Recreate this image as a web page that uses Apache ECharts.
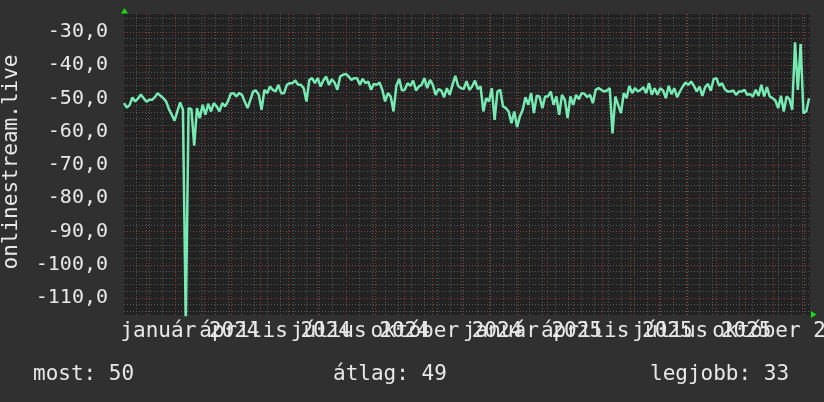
<!DOCTYPE html>
<html><head><meta charset="utf-8">
<script src="https://cdn.jsdelivr.net/npm/echarts@6/dist/echarts.min.js"></script>
<style>html,body{margin:0;padding:0;background:#303030;}#c{width:824px;height:402px;}</style>
</head><body><div id="c"></div>
<script>
// ---- data ----
const seriesName = 'onlinestream.live';
const startDate = [2023, 10, 7];   // first sample (local date), day 0
const spanDays = 733;              // axis span in days
const stepDays = 3;                // one sample every 3 days
const values = [
  -51.4, -52.7, -52.0, -49.7, -50.9, -50.0, -48.8, -49.9, -51.0, -50.4,
  -50.4, -49.6, -48.4, -49.2, -49.9, -50.9, -53.2, -54.9, -56.7, -53.9,
  -51.2, -53.4, -118, -52.9, -53.2, -64.2, -52.9, -55.9, -51.9, -54.9,
  -51.6, -53.9, -51.4, -52.4, -53.9, -51.4, -52.4, -50.9, -48.6, -48.4,
  -49.4, -48.4, -48.9, -50.9, -52.9, -50.4, -47.9, -47.6, -48.9, -53.4,
  -47.4, -48.4, -46.4, -47.4, -47.9, -45.9, -48.4, -48.4, -45.9, -45.4,
  -45.4, -44.6, -45.9, -45.9, -46.9, -50.9, -44.4, -43.9, -45.4, -43.9,
  -46.4, -44.6, -43.4, -45.9, -44.2, -45.2, -47.4, -43.4, -42.9, -42.6,
  -43.4, -44.4, -43.9, -43.9, -45.9,
  -44.1, -45.4, -44.9, -47.4, -45.6, -45.9, -45.2, -47.4, -50.9, -48.4,
  -49.4, -53.9, -46.2, -44.1, -47.6, -47.4, -45.4, -46.2, -44.6, -47.6,
  -46.4, -45.9, -43.9, -46.9, -44.4, -45.9, -48.9, -47.2, -47.6, -49.6,
  -46.9, -48.9, -45.9, -43.2, -46.2, -46.9, -47.2, -44.8, -47.4, -46.4,
  -44.6, -47.2, -46.4, -53.9, -49.9, -50.9, -46.9, -56.4, -47.9, -47.4,
  -52.4, -52.9, -53.9, -57.4, -53.9, -58.6, -55.4, -53.4, -49.6, -51.9,
  -48.4, -54.4, -49.2, -49.4, -52.9, -49.4, -49.4, -47.9, -51.9, -49.4,
  -54.9, -48.9, -50.4, -55.9, -49.4, -51.9, -48.9, -50.2, -48.4, -48.6,
  -49.6, -48.9, -51.4, -47.4, -46.9, -47.4, -47.9, -47.6, -46.9,
  -60.5, -49.4, -51.9, -54.4, -48.4, -49.9, -46.2, -48.4, -46.9, -47.9,
  -47.4, -46.6, -48.4, -45.4, -48.9, -46.9, -48.9, -46.9, -47.6, -49.9,
  -46.2, -48.7, -46.9, -49.6, -47.9, -46.4, -45.2, -45.9, -44.9, -46.2,
  -47.9, -46.4, -49.2, -46.6, -45.6, -47.7, -44.2, -43.9, -46.2, -45.4,
  -47.2, -47.9, -47.9, -47.6, -48.9, -47.9, -47.9, -47.4, -48.9, -48.7,
  -49.4, -47.4, -49.2, -45.9, -49.4, -46.6, -49.4, -49.9, -50.6, -52.9,
  -49.2, -53.9, -49.4, -50.2, -53.4, -33.1, -47.4, -33.6, -54.4, -53.9, -49.9
];
const yTicks = [-110, -100, -90, -80, -70, -60, -50, -40, -30];
const yMin = -115.1, yMax = -24.6;
const labelMonthsA = [[2024, 0], [2024, 6], [2025, 0], [2025, 6]];
const labelMonthsB = [[2024, 3], [2024, 9], [2025, 3], [2025, 9]];
const monthNames = ['január', 'február', 'március', 'április', 'május', 'június', 'július', 'augusztus', 'szeptember', 'október', 'november', 'december'];
const statTexts = ['most: 50', 'átlag: 49', 'legjobb: 33'];

// ---- build ----
const DAY = 86400000;
const t0 = new Date(startDate[0], startDate[1], startDate[2]).getTime();
const dayOf = (y, m, d, h) => (new Date(y, m, d, h || 0).getTime() - t0) / DAY;
const seriesData = values.map((v, i) => [i * stepDays, v]);
const labA = labelMonthsA.map(([y, m]) => dayOf(y, m, 16, 12));
const labB = labelMonthsB.map(([y, m]) => dayOf(y, m, 16, 12));

const RED = '#8a3a3a', GRAY = '#565656';
const dot = (c) => ({ color: c, type: [1, 2], width: 1 });
const minorLines = [], majorLines = [];
for (let v = -114; v <= -26; v += 2) {
  if (v % 10 !== 0) minorLines.push({ yAxis: v, lineStyle: dot(GRAY) });
}
for (let d = dayOf(2023, 10, 20); d < spanDays; d += 14) {
  minorLines.push({ xAxis: d, lineStyle: dot(GRAY) });
}
yTicks.forEach(v => majorLines.push({ yAxis: v, lineStyle: dot(RED) }));
for (let k = 0; k < 24; k++) {
  const d = dayOf(2023, 11 + k, 1);
  if (d < spanDays) majorLines.push({ xAxis: d, lineStyle: dot(RED) });
}

const FONT = 'DejaVu Sans Mono';
const TXT = '#e8e8e8';
const fmtX = (v) => { const dt = new Date(t0 + v * DAY); return monthNames[dt.getMonth()] + ' ' + dt.getFullYear(); };
const xAxisBase = (labels) => ({
  type: 'value', min: 0, max: spanDays, interval: spanDays, position: 'bottom',
  axisLine: { show: false }, axisTick: { show: false }, splitLine: { show: false },
  axisLabel: {
    customValues: labels, hideOverlap: false,
    formatter: fmtX, color: TXT, fontFamily: FONT, fontSize: 21, margin: 6
  }
});
const chart = echarts.init(document.getElementById('c'), null, { renderer: 'canvas' });
chart.setOption({
  animation: false,
  backgroundColor: '#303030',
  grid: { left: 124, right: 14, top: 14, bottom: 87, show: true, backgroundColor: '#222222', borderWidth: 0,
          containLabel: false, outerBoundsMode: 'none' },
  xAxis: [xAxisBase(labA), xAxisBase(labB)],
  yAxis: {
    type: 'value', min: yMin, max: yMax,
    axisLine: { show: false }, axisTick: { show: false }, splitLine: { show: false },
    axisLabel: {
      customValues: yTicks,
      formatter: (v) => v.toFixed(1).replace('.', ','),
      color: TXT, fontFamily: FONT, fontSize: 20, margin: 16
    }
  },
  series: [
    { type: 'line', data: [], silent: true, z: 1, xAxisIndex: 0,
      markLine: { silent: true, symbol: ['none', 'none'], label: { show: false }, animation: false, data: minorLines } },
    { type: 'line', data: [], silent: true, z: 2, xAxisIndex: 0,
      markLine: { silent: true, symbol: ['none', 'none'], label: { show: false }, animation: false, data: majorLines } },
    { name: seriesName, type: 'line', data: seriesData, showSymbol: false, z: 5, clip: true, xAxisIndex: 0,
      lineStyle: { color: '#77eab4', width: 2.5 } }
  ],
  graphic: [
    { type: 'text', x: 12, y: 162, rotation: Math.PI / 2,
      style: { text: seriesName, font: '21px "DejaVu Sans Mono"', fill: TXT, textAlign: 'center', textVerticalAlign: 'middle' } },
    { type: 'text', x: 33, y: 375, style: { text: statTexts[0], font: '21px "DejaVu Sans Mono"', fill: TXT, textAlign: 'left', textVerticalAlign: 'middle' } },
    { type: 'text', x: 333, y: 375, style: { text: statTexts[1], font: '21px "DejaVu Sans Mono"', fill: TXT, textAlign: 'left', textVerticalAlign: 'middle' } },
    { type: 'text', x: 650, y: 375, style: { text: statTexts[2], font: '21px "DejaVu Sans Mono"', fill: TXT, textAlign: 'left', textVerticalAlign: 'middle' } },
    { type: 'polygon', shape: { points: [[124.5, 8], [121, 13.5], [128, 13.5]] }, style: { fill: '#11dd11' } },
    { type: 'polygon', shape: { points: [[816.5, 314.5], [811, 311], [811, 318]] }, style: { fill: '#11dd11' } }
  ]
});
</script></body></html>
